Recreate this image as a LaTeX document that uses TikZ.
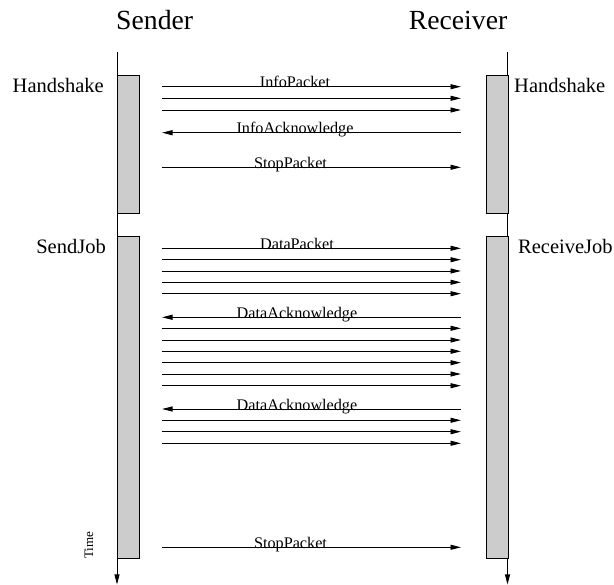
\documentclass[tikz,border=0pt]{standalone}
\usepackage{fontspec}
\setmainfont{Liberation Serif}
\usetikzlibrary{arrows.meta}
\begin{document}
\begin{tikzpicture}[x=1pt,y=-1pt,
  lifeline/.style={line width=0.9pt,-{Triangle[length=10pt,width=5pt]}},
  act/.style={draw,line width=0.9pt,fill=black!20,inner sep=0pt,anchor=north west,minimum width=22pt},
  msg/.style={line width=0.9pt,-{Triangle[length=10.5pt,width=5pt]}},
  msglbl/.style={anchor=base,font=\fontsize{16.2}{18}\selectfont,inner sep=0pt},
  big/.style={font=\fontsize{27.7}{30}\selectfont,inner sep=0pt},
  side/.style={font=\fontsize{20.5}{22}\selectfont,inner sep=0pt}]
\useasboundingbox (0,0) rectangle (614,585);
% titles
\node[big,anchor=base west] (sender) at (116,30) {Sender};
\node[big,anchor=base east] (receiver) at (507.5,30) {Receiver};
% lifelines
\coordinate (stop) at (117,52);
\coordinate (sbot) at (117,584.5);
\coordinate (rtop) at (507.5,52);
\coordinate (rbot) at (507.5,584.5);
\draw[lifeline] (stop) -- (sbot);
\draw[lifeline] (rtop) -- (rbot);
% activation boxes
\node[act,minimum height=138pt] (shs) at (117,75) {};
\node[act,minimum height=322pt] (sjob) at (117,236) {};
\node[act,minimum height=138pt] (rhs) at (485.5,75) {};
\node[act,minimum height=322pt] (rjob) at (485.5,236) {};
% side labels
\node[side,anchor=base east] (lhs) at (104,93) {Handshake};
\node[side,anchor=base east] (lsj) at (106,253.5) {SendJob};
\node[side,anchor=base west] (lrhs) at (514,93) {Handshake};
\node[side,anchor=base west] (lrj) at (518,253.5) {ReceiveJob};
\node[rotate=90,anchor=base,font=\fontsize{13}{14}\selectfont,inner sep=0pt] (time) at (93,545) {Time};
% messages sender -> receiver
\foreach \i/\y in {1/86.7,2/98.3,3/110,4/167.3,5/248.3,6/259.7,7/271,8/282.3,9/293.7,
  10/328.3,11/340,12/351.3,13/362.7,14/374,15/385.7,16/420.3,17/431.7,18/443.3,19/547.3}{
  \coordinate (s\i) at (162,\y);
  \coordinate (r\i) at (461,\y);
  \draw[msg] (s\i) -- (r\i);
}
% messages receiver -> sender
\foreach \i/\y in {1/132.7,2/317.3,3/409}{
  \coordinate (ra\i) at (461,\y);
  \coordinate (sa\i) at (162,\y);
  \draw[msg] (ra\i) -- (sa\i);
}
% labels
\node[msglbl] (l1) at (295,88) {InfoPacket};
\node[msglbl] (l2) at (295,134) {InfoAcknowledge};
\node[msglbl] (l3) at (290.5,168.6) {StopPacket};
\node[msglbl] (l4) at (297,249.6) {DataPacket};
\node[msglbl] (l5) at (297,318.6) {DataAcknowledge};
\node[msglbl] (l6) at (297,410.3) {DataAcknowledge};
\node[msglbl] (l7) at (290.5,548.6) {StopPacket};
\end{tikzpicture}
\end{document}
